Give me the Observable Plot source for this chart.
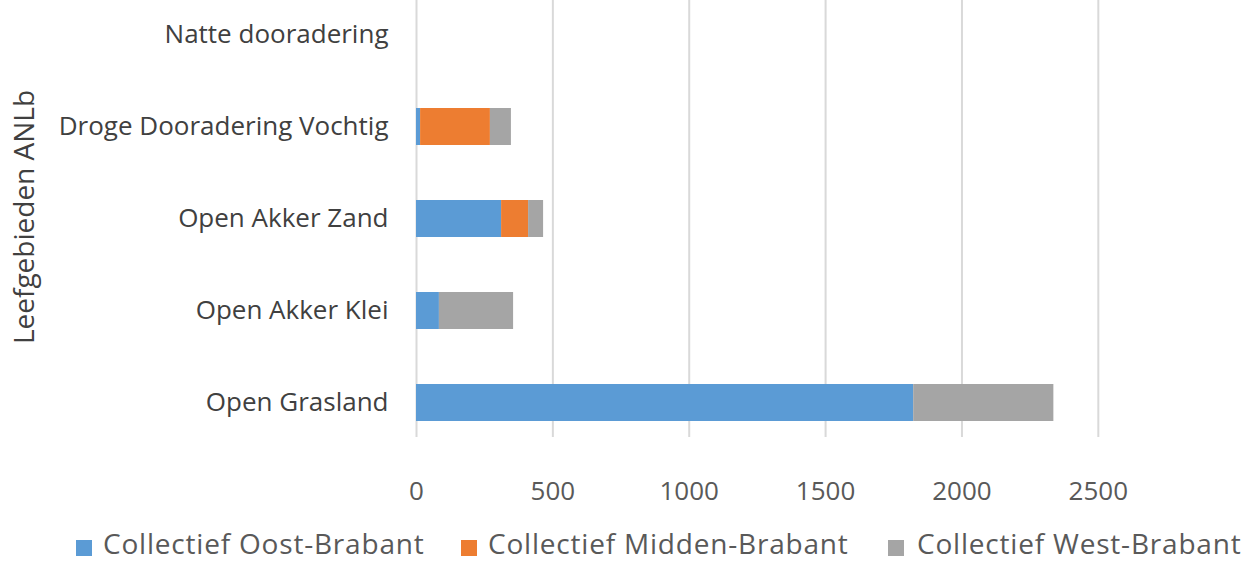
<!DOCTYPE html>
<html><head><meta charset="utf-8">
<script src="https://cdn.jsdelivr.net/npm/d3@7"></script>
<script src="https://cdn.jsdelivr.net/npm/@observablehq/plot@0.6"></script>
<style>
body{margin:0;background:#fff;font-family:"Open Sans",sans-serif;}
#chart{position:relative;width:1255px;}
#legend{position:relative;width:1255px;height:50px;}
.sw{position:absolute;width:16px;height:16px;top:28px;}
.lbl{position:absolute;top:16px;height:30px;font-size:28px;line-height:30px;letter-spacing:0.8px;color:#595959;white-space:nowrap;}
</style></head><body><div id="chart"></div><div id="legend"></div><script>
const categories = ["Natte dooradering","Droge Dooradering Vochtig","Open Akker Zand","Open Akker Klei","Open Grasland"];
const seriesNames = ["Collectief Oost-Brabant","Collectief Midden-Brabant","Collectief West-Brabant"];
const oost   = [0, 15, 312, 84, 1823];
const midden = [0, 256, 99, 0, 0];
const west   = [0, 77, 55, 272, 514];
const colors = ["#5B9BD5","#ED7D31","#A5A5A5"];
const xTicks = [0, 500, 1000, 1500, 2000, 2500];
const yTitle = "Leefgebieden ANLb";

const valuesBySeries = [oost, midden, west];
const rows = categories.flatMap((c, i) => seriesNames.map((s, j) => ({cat: c, series: s, value: valuesBySeries[j][i]})));

const chart = Plot.plot({
  width: 1255,
  height: 512,
  marginLeft: 416,
  marginRight: 89,
  marginTop: 0,
  marginBottom: 75,
  style: {fontFamily: "Open Sans, sans-serif", color: "#595959", background: "#fff"},
  x: {domain: [0, 2750]},
  y: {domain: categories, paddingInner: 0.6, paddingOuter: 0.156, align: 0.5},
  color: {domain: seriesNames, range: colors},
  marks: [
    Plot.ruleX(xTicks, {stroke: "#d9d9d9", strokeWidth: 2}),
    Plot.barX(rows, {x: "value", y: "cat", fill: "series", order: seriesNames}),
    Plot.axisX({ticks: xTicks, tickFormat: d => String(d), tickSize: 0, tickPadding: 44, fontSize: 26, label: null, fill: "#595959"}),
    Plot.axisY({tickSize: 0, tickPadding: 28, fontSize: 26, label: null, fill: "#404040"}),
    Plot.text([yTitle], {frameAnchor: "left", textAnchor: "middle", rotate: -90, dx: -391, dy: -2, fontSize: 28, fill: "#404040"})
  ]
});
document.getElementById("chart").appendChild(chart);

const legend = document.getElementById("legend");
const swatchX = [76, 461, 888];
const labelX = [103, 488, 917];
seriesNames.forEach((s, i) => {
  const sw = document.createElement("div");
  sw.className = "sw";
  sw.style.left = swatchX[i] + "px";
  sw.style.background = colors[i];
  legend.appendChild(sw);
  const t = document.createElement("div");
  t.className = "lbl";
  t.style.left = labelX[i] + "px";
  t.textContent = s;
  legend.appendChild(t);
});
</script></body></html>
